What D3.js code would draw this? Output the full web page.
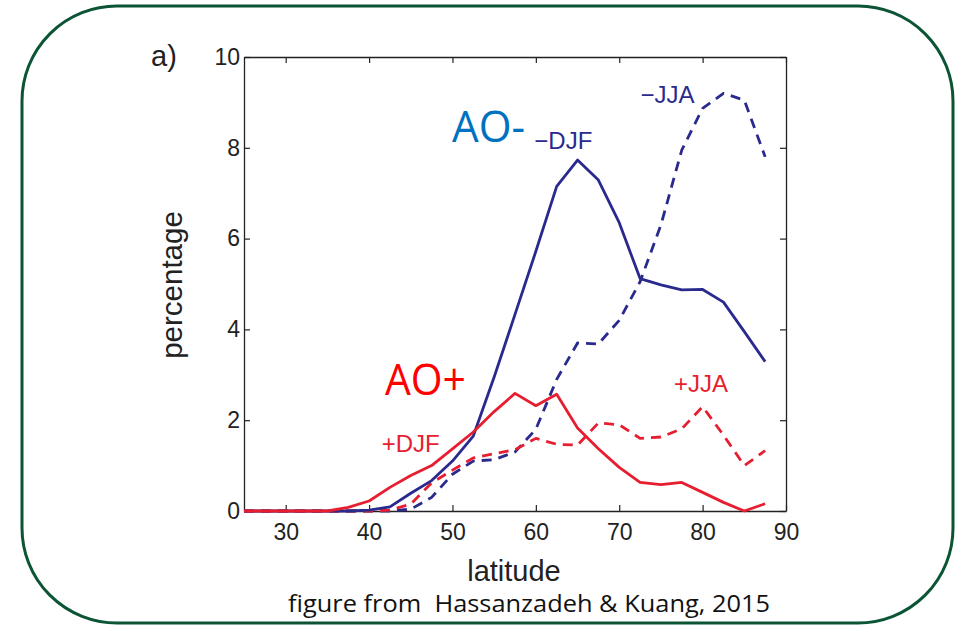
<!DOCTYPE html>
<html>
<head>
<meta charset="utf-8">
<script src="https://cdn.jsdelivr.net/npm/d3@7"></script>
<style>
  html, body { margin: 0; padding: 0; background: #fff; }
  svg { display: block; }
</style>
</head>
<body>
<svg id="chart" width="967" height="628"></svg>
<script>
// latitude grid (deg N), every 2.5 degrees
const lats = [25, 27.5, 30, 32.5, 35, 37.5, 40, 42.5, 45, 47.5, 50, 52.5, 55, 57.5,
              60, 62.5, 65, 67.5, 70, 72.5, 75, 77.5, 80, 82.5, 85, 87.5];

// AO+ winter / summer
const posDJF = [0, 0, 0, 0, 0, 0.08, 0.22, 0.52, 0.78, 1.0, 1.37, 1.74, 2.19, 2.59,
                2.32, 2.57, 1.83, 1.37, 0.96, 0.63, 0.58, 0.63, 0.41, 0.19, 0.0, 0.16];
const posJJA = [0, 0, 0, 0, 0, 0, 0, 0.02, 0.15, 0.62, 0.9, 1.17, 1.26, 1.35,
                1.6, 1.47, 1.45, 1.94, 1.9, 1.6, 1.63, 1.81, 2.3, 1.67, 1.0, 1.33];
// AO- winter / summer
const negDJF = [0, 0, 0, 0, 0, 0, 0.02, 0.09, 0.39, 0.67, 1.1, 1.65, 2.95, 4.33,
                5.72, 7.15, 7.73, 7.29, 6.35, 5.12, 4.98, 4.87, 4.88, 4.6, 3.95, 3.29];
const negJJA = [0, 0, 0, 0, 0, 0, 0, 0, 0.04, 0.3, 0.81, 1.1, 1.13, 1.3,
                1.8, 2.9, 3.7, 3.68, 4.2, 5.05, 6.3, 7.95, 8.87, 9.2, 9.05, 7.8];

const xTicks = [30, 40, 50, 60, 70, 80, 90];
const yTicks = [0, 2, 4, 6, 8, 10];

const NAVY = '#2a2a8e';
const RED = '#e61e30';

const svg = d3.select('#chart');

// rounded slide frame
svg.append('rect')
  .attr('x', 22).attr('y', 6)
  .attr('width', 931).attr('height', 617)
  .attr('rx', 95).attr('ry', 95)
  .attr('fill', '#fff')
  .attr('stroke', '#0b5535')
  .attr('stroke-width', 3);

const L = 244, R = 786, T = 57, B = 511;
const x = d3.scaleLinear().domain([25, 90]).range([L, R]);
const y = d3.scaleLinear().domain([0, 10]).range([B, T]);

const axisFont = "'Liberation Sans', Arial, Helvetica, sans-serif";

// axes: MATLAB-style box with inward ticks on all sides
const axes = [
  { ax: d3.axisBottom(x).tickValues(xTicks), t: `translate(0,${B})`, lbl: true, pad: 13 },
  { ax: d3.axisTop(x).tickValues(xTicks), t: `translate(0,${T})`, lbl: false, pad: 4 },
  { ax: d3.axisLeft(y).tickValues(yTicks), t: `translate(${L},0)`, lbl: true, pad: 4 },
  { ax: d3.axisRight(y).tickValues(yTicks), t: `translate(${R},0)`, lbl: false, pad: 4 }
];
axes.forEach(a => {
  const g = svg.append('g').attr('transform', a.t)
    .call(a.ax.tickSizeInner(-6).tickSizeOuter(0).tickPadding(a.pad));
  g.select('.domain').attr('stroke', '#222').attr('stroke-width', 1.3);
  g.selectAll('.tick line').attr('stroke', '#222').attr('stroke-width', 1.2);
  g.selectAll('.tick text')
    .attr('font-family', axisFont).attr('font-size', 23).attr('fill', '#222');
  if (!a.lbl) g.selectAll('.tick text').remove();
});

// data lines
const line = vals => d3.line()
  .x((d, i) => x(lats[i]))
  .y(d => y(d))(vals);

const series = [
  { v: negJJA, c: NAVY, dash: '10,7' },
  { v: posJJA, c: RED, dash: '10,7' },
  { v: negDJF, c: NAVY, dash: null },
  { v: posDJF, c: RED, dash: null }
];
svg.append('g').selectAll('path')
  .data(series).enter().append('path')
  .attr('d', s => line(s.v))
  .attr('fill', 'none')
  .attr('stroke', s => s.c)
  .attr('stroke-width', 2.8)
  .attr('stroke-linejoin', 'round')
  .attr('stroke-dasharray', s => s.dash);

// season labels
const seasonLabels = [
  { t: '\u2212DJF', lat: 63.3, v: 7.98, c: NAVY },
  { t: '\u2212JJA', lat: 75.8, v: 8.98, c: NAVY },
  { t: '+DJF', lat: 45.0, v: 1.3, c: RED },
  { t: '+JJA', lat: 79.8, v: 2.63, c: RED }
];
svg.append('g').selectAll('text')
  .data(seasonLabels).enter().append('text')
  .attr('x', d => x(d.lat)).attr('y', d => y(d.v))
  .attr('text-anchor', 'middle')
  .attr('font-family', axisFont).attr('font-size', 24)
  .attr('fill', d => d.c)
  .text(d => d.t);

// big AO annotations
svg.append('text').attr('x', 452).attr('y', 142)
  .attr('font-family', "'Open Sans', sans-serif").attr('font-size', 44)
  .attr('textLength', 73).attr('lengthAdjust', 'spacingAndGlyphs')
  .attr('fill', '#0070c0').text('AO-');
svg.append('text').attr('x', 385).attr('y', 395)
  .attr('font-family', "'Open Sans', sans-serif").attr('font-size', 44)
  .attr('textLength', 81).attr('lengthAdjust', 'spacingAndGlyphs')
  .attr('fill', '#ff0000').text('AO+');

// panel letter and axis titles
svg.append('text').attr('x', 151).attr('y', 66)
  .attr('font-family', axisFont).attr('font-size', 29).attr('fill', '#222')
  .text('a)');
svg.append('text')
  .attr('transform', 'translate(182,285) rotate(-90)')
  .attr('text-anchor', 'middle')
  .attr('font-family', axisFont).attr('font-size', 29.5).attr('fill', '#222')
  .text('percentage');
svg.append('text').attr('x', 514).attr('y', 581)
  .attr('text-anchor', 'middle')
  .attr('font-family', axisFont).attr('font-size', 29).attr('fill', '#222')
  .text('latitude');

// source note
svg.append('text').attr('x', 529).attr('y', 612)
  .attr('text-anchor', 'middle')
  .attr('font-family', "'Open Sans', sans-serif").attr('font-size', 23.5)
  .attr('textLength', 482).attr('lengthAdjust', 'spacingAndGlyphs')
  .attr('fill', '#111')
  .attr('xml:space', 'preserve')
  .style('white-space', 'pre')
  .text('figure from  Hassanzadeh & Kuang, 2015');
</script>
</body>
</html>
